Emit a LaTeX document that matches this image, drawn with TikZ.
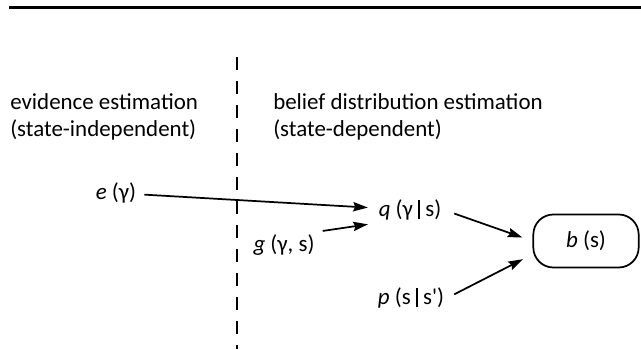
\documentclass[tikz,border=0pt]{standalone}
\usepackage{fontspec}
\setmainfont{Carlito}
\usetikzlibrary{arrows.meta,positioning}
\newcommand{\givenbar}{\hspace{4pt}\rule[-0.12em]{1.3pt}{0.85em}\hspace{4pt}}

\begin{document}
\begin{tikzpicture}[
    x=0.75pt, y=-0.75pt,
    head/.style={font=\fontsize{17.2}{20.25}\selectfont, align=left, inner sep=0pt},
    var/.style={font=\fontsize{17.2}{20.25}\selectfont, inner sep=2pt},
    belief/.style={draw, line width=1.3pt, rounded corners=15pt,
                   minimum width=79pt, minimum height=39.75pt,
                   font=\fontsize{17.2}{20.25}\selectfont},
    arr/.style={-{Stealth[length=11pt,width=7pt,inset=1.5pt]},
                line width=1.3pt, shorten <=4pt, shorten >=6pt},
  ]
  \useasboundingbox (0,0) rectangle (641,349);
  \draw[line width=1.6pt] (9,7.5) -- (641,7.5);

  % dividing line between the two stages
  \coordinate (divtop) at (237,57);
  \coordinate (divbot) at (237,349);
  \draw[line width=1.4pt, dash pattern=on 9.5pt off 8.5pt] (divtop) -- (divbot);

  % stage headings (base = baseline of the last line)
  \node[head, anchor=base west] (evid) at (10,137)
    {evidence estimation\\(state-independent)};
  \node[head, anchor=base west] (bdist) at (273,137)
    {belief distribution estimation\\(state-dependent)};

  % quantities
  \node[var] (e) at (116,193) {\textit{e} (γ)};
  \node[var] (q) at (410,210) {\textit{q} (γ\givenbar s)};
  \node[var] (g) at (284,245) {\textit{g} (γ, s)};
  \node[var] (p) at (411,298) {\textit{p} (s\givenbar s\textquotesingle)};
  \node[belief] (b) at (586,241) {\textit{b} (s)};

  \draw[arr] (e) -- (q);
  \draw[arr] (g.north east) -- (q.south west);
  \draw[arr, shorten <=8pt, shorten >=8pt] (q.east) -- (b.west);
  \draw[arr, shorten <=6pt, shorten >=8pt] (p.east) -- ([yshift=-10pt]b.west);
\end{tikzpicture}
\end{document}
